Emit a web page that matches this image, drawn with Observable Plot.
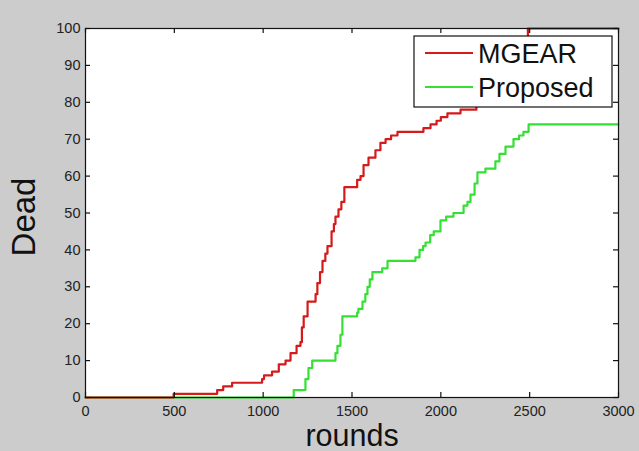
<!DOCTYPE html>
<html>
<head>
<meta charset="utf-8">
<script src="https://cdn.jsdelivr.net/npm/d3@7"></script>
<script src="https://cdn.jsdelivr.net/npm/@observablehq/plot@0.6"></script>
<style>
  html, body { margin: 0; padding: 0; background: #cccccc; }
  #chart { width: 639px; height: 451px; }
  svg { font-family: "Liberation Sans", Arial, sans-serif; }
</style>
</head>
<body>
<div id="chart"></div>
<script>
const seriesNames = ["MGEAR", "Proposed"];
const seriesColors = ["#d41a1a", "#33e033"];

const mgearRounds = [0, 496, 741, 775, 825, 994, 1005, 1050, 1088, 1126, 1154, 1188, 1210, 1218, 1228, 1250, 1295, 1305, 1320, 1334, 1350, 1362, 1385, 1398, 1407, 1424, 1440, 1457, 1529, 1548, 1565, 1593, 1632, 1660, 1689, 1720, 1756, 1902, 1942, 1976, 2000, 2037, 2111, 2200, 2250, 2300, 2350, 2400, 2450, 2480, 2490, 3000];
const mgearDead   = [0, 1, 2, 3, 4, 5, 6, 7, 9, 10, 12, 14, 15, 19, 22, 26, 28, 31, 34, 37, 39, 41, 45, 47, 49, 51, 53, 57, 59, 60, 63, 65, 67, 69, 70, 71, 72, 73, 74, 75, 76, 77, 78, 79, 81, 83, 86, 89, 93, 97, 100, 100];

const proposedRounds = [0, 1172, 1238, 1255, 1276, 1407, 1418, 1435, 1446, 1529, 1536, 1559, 1575, 1587, 1600, 1615, 1670, 1700, 1857, 1880, 1900, 1914, 1940, 1960, 1998, 2030, 2071, 2128, 2150, 2167, 2190, 2206, 2251, 2307, 2330, 2364, 2409, 2440, 2465, 2494, 3000];
const proposedDead   = [0, 2, 5, 8, 10, 12, 14, 17, 22, 23, 24, 26, 28, 30, 32, 34, 35, 37, 38, 40, 41, 42, 44, 45, 48, 49, 50, 52, 53, 55, 58, 61, 62, 64, 66, 68, 70, 71, 72, 74, 74];

const xTicks = [0, 500, 1000, 1500, 2000, 2500, 3000];
const yTicks = [0, 10, 20, 30, 40, 50, 60, 70, 80, 90, 100];
const xLabel = "rounds";
const yLabel = "Dead";

const mgear = mgearRounds.map((r, i) => ({round: r, dead: mgearDead[i]}));
const proposed = proposedRounds.map((r, i) => ({round: r, dead: proposedDead[i]}));

const plain = d => String(d);

const W = 639, H = 451, mL = 85, mR = 21, mT = 28, mB = 54, tick = 5;
const innerW = W - mL - mR, innerH = H - mT - mB;

const plot = Plot.plot({
  width: W,
  height: H,
  marginLeft: mL,
  marginRight: mR,
  marginTop: mT,
  marginBottom: mB,
  style: {background: "#cccccc", fontFamily: "Liberation Sans, Arial, sans-serif", color: "#222"},
  x: {domain: [0, 3000]},
  y: {domain: [0, 100]},
  marks: [
    Plot.frame({fill: "white", stroke: null}),
    Plot.line(proposed, {x: "round", y: "dead", curve: "step-after", stroke: seriesColors[1], strokeWidth: 2.2}),
    Plot.line(mgear, {x: "round", y: "dead", curve: "step-after", stroke: seriesColors[0], strokeWidth: 2.2}),
    // inward MATLAB-style ticks on all four sides
    Plot.tickX(xTicks, {x: d => d, insetTop: innerH - tick, stroke: "#111", strokeWidth: 1.2}),
    Plot.tickX(xTicks, {x: d => d, insetBottom: innerH - tick, stroke: "#111", strokeWidth: 1.2}),
    Plot.tickY(yTicks, {y: d => d, insetRight: innerW - tick, stroke: "#111", strokeWidth: 1.2}),
    Plot.tickY(yTicks, {y: d => d, insetLeft: innerW - tick, stroke: "#111", strokeWidth: 1.2}),
    Plot.frame({stroke: "#111", strokeWidth: 1.2}),
    Plot.axisX({anchor: "bottom", ticks: xTicks, tickSize: 0, tickPadding: 8, fontSize: 14.5, tickFormat: plain, label: null}),
    Plot.axisY({anchor: "left", ticks: yTicks, tickSize: 0, tickPadding: 5, fontSize: 14.5, tickFormat: plain, label: null}),
    Plot.text([xLabel], {frameAnchor: "bottom", dy: 48, fontSize: 30.5, fill: "#111", textAnchor: "middle"}),
    Plot.text([yLabel], {frameAnchor: "left", dx: -61, dy: 4, rotate: -90, fontSize: 33, fill: "#111", textAnchor: "middle"})
  ]
});

document.getElementById("chart").appendChild(plot);

// Legend box (MATLAB style, inside axes at top right)
const svg = d3.select(plot);
const lg = svg.append("g").attr("class", "legend");
lg.append("rect").attr("x", 414).attr("y", 36).attr("width", 198).attr("height", 71)
  .attr("fill", "white").attr("stroke", "#111").attr("stroke-width", 1.2);
seriesNames.forEach((name, i) => {
  const cy = 53 + i * 34;
  lg.append("line").attr("x1", 425).attr("x2", 473).attr("y1", cy).attr("y2", cy)
    .attr("stroke", seriesColors[i]).attr("stroke-width", 2.2);
  lg.append("text").attr("x", 478).attr("y", cy + 10)
    .attr("font-size", 27).attr("fill", "#111")
    .attr("text-anchor", "start")
    .attr("font-family", "Liberation Sans, Arial, sans-serif")
    .text(name);
});
</script>
</body>
</html>
